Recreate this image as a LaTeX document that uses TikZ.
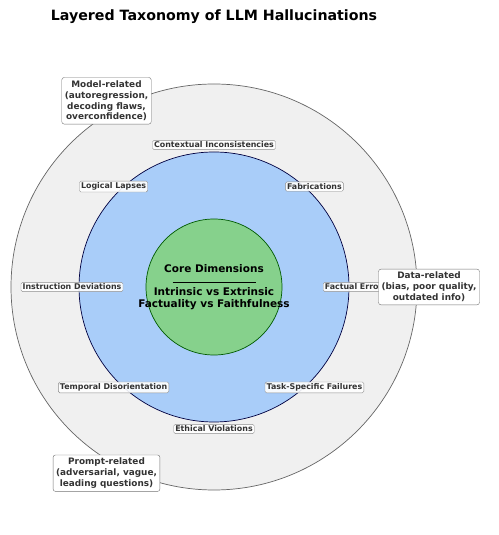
\documentclass[tikz,border=0pt]{standalone}
\usepackage{fontspec}
\setmainfont{DejaVu Sans}
\usepackage{xcolor}
\usetikzlibrary{positioning}
\definecolor{outerfill}{HTML}{F0F0F0}
\definecolor{midfill}{HTML}{A9CDF9}
\definecolor{corefill}{HTML}{86D18C}
\definecolor{tagtext}{HTML}{333333}

\begin{document}
\begin{tikzpicture}[
    x=1pt, y=1pt,
    ring/.style={circle, draw=#1, line width=0.7pt, inner sep=0pt},
    tag/.style={draw=black!45, fill=white, fill opacity=0.9, text opacity=1, rounded corners=1.5pt, inner sep=1.6pt, text=tagtext, font=\fontsize{7.9}{9}\selectfont\bfseries},
    cause/.style={draw=black!55, fill=white, rounded corners=2.5pt, inner sep=3pt, align=center, text=tagtext, font=\fontsize{8.9}{10.9}\selectfont\bfseries}
]
\useasboundingbox (0,0) rectangle (498,535);

\node[font=\fontsize{14.2}{16}\selectfont\bfseries] (title) at (214,518) {Layered Taxonomy of LLM Hallucinations};

\node[ring=black!60, fill=outerfill, minimum size=406pt] (outer) at (214,248) {};
\node[ring=black!75!blue, fill=midfill, minimum size=270pt] (mid) at (214,248) {};
\node[ring=black!65!green, fill=corefill, minimum size=136pt] (core) at (214,248) {};

% center text
\node[font=\fontsize{10.5}{12}\selectfont\bfseries] (coretitle) at (214,266) {Core Dimensions};
\node[font=\fontsize{10.5}{12}\selectfont\bfseries, align=center] (coredims) at (214,236) {Intrinsic vs Extrinsic\\Factuality vs Faithfulness};
\draw[line width=0.8pt] ([xshift=-41.5pt, yshift=-6pt]coretitle.south) -- ([xshift=41.5pt, yshift=-6pt]coretitle.south);

% hallucination types
\node[tag] (context) at ([shift={(90:142)}]core.center) {Contextual Inconsistencies};
\node[tag] (fabric) at ([shift={(45:142)}]core.center) {Fabrications};
\node[tag] (factual) at ([shift={(0:142)}]core.center) {Factual Errors};
\node[tag] (task) at ([shift={(-45:142)}]core.center) {Task-Specific Failures};
\node[tag] (ethical) at ([shift={(-90:142)}]core.center) {Ethical Violations};
\node[tag] (temporal) at ([shift={(-135:142)}]core.center) {Temporal Disorientation};
\node[tag] (instruct) at ([shift={(180:142)}]core.center) {Instruction Deviations};
\node[tag] (logical) at ([shift={(135:142)}]core.center) {Logical Lapses};

% sources
\node[cause] (model) at ([shift={(120:215)}]core.center) {Model-related\\(autoregression,\\decoding flaws,\\overconfidence)};
\node[cause] (data) at ([shift={(0:215)}]core.center) {Data-related\\(bias, poor quality,\\outdated info)};
\node[cause] (prompt) at ([shift={(240:215)}]core.center) {Prompt-related\\(adversarial, vague,\\leading questions)};
\end{tikzpicture}
\end{document}
